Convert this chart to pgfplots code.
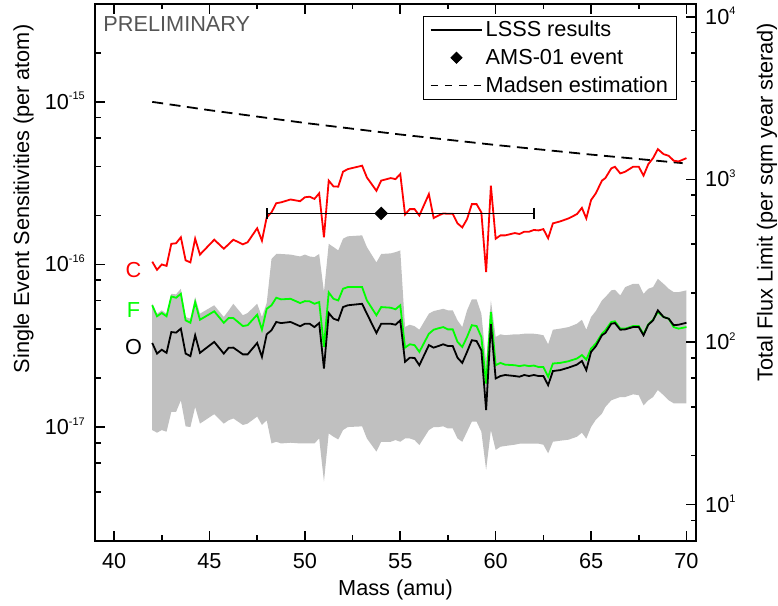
\documentclass[border=0pt]{standalone}
\usepackage{fontspec}
\setmainfont{Liberation Sans}
\usepackage{pgfplots}
\pgfplotsset{compat=1.18}
\usepackage{pgfplotstable}
\usepgfplotslibrary{fillbetween}

\definecolor{band}{RGB}{192,192,192}
\definecolor{lime}{RGB}{0,255,0}
\definecolor{prelim}{RGB}{85,85,85}

% 10 with a small raised exponent
\newcommand{\pw}[1]{10\smash{\raisebox{9.5bp}{\fontsize{11bp}{12bp}\selectfont #1}}}

% mass, C, F, O sensitivities and the lower/upper edge of the grey band
\pgfplotstableread{
m     C        F        O        lo       up
42.00 1.04e-16 5.61e-17 3.29e-17 9.58e-18 5.73e-17
42.25 9.27e-17 4.80e-17 2.83e-17 9.23e-18 4.98e-17
42.50 1.00e-16 5.03e-17 2.99e-17 9.58e-18 5.22e-17
42.75 9.80e-17 4.80e-17 2.86e-17 9.36e-18 4.98e-17
43.00 1.34e-16 6.36e-17 3.84e-17 1.24e-17 6.60e-17
43.25 1.35e-16 6.24e-17 3.81e-17 1.24e-17 6.55e-17
43.50 1.47e-16 6.60e-17 4.03e-17 1.46e-17 7.09e-17
43.75 1.06e-16 4.53e-17 2.83e-17 1.01e-17 4.75e-17
44.00 1.03e-16 4.38e-17 2.73e-17 1.00e-17 4.64e-17
44.25 1.44e-16 5.87e-17 3.67e-17 1.33e-17 6.30e-17
44.50 1.15e-16 4.57e-17 2.86e-17 1.05e-17 4.98e-17
45.25 1.42e-16 5.15e-17 3.34e-17 1.20e-17 5.61e-17
45.75 1.25e-16 4.38e-17 2.83e-17 1.05e-17 4.75e-17
46.00 1.33e-16 4.68e-17 3.07e-17 1.10e-17 5.20e-17
46.25 1.42e-16 4.68e-17 3.08e-17 1.13e-17 5.73e-17
46.75 1.33e-16 4.18e-17 2.80e-17 1.03e-17 4.87e-17
47.00 1.37e-16 4.23e-17 2.80e-17 1.05e-17 5.03e-17
47.50 1.67e-16 4.91e-17 3.29e-17 1.16e-17 5.73e-17
47.75 1.40e-16 3.97e-17 2.70e-17 1.03e-17 4.75e-17
48.00 1.95e-16 5.34e-17 3.72e-17 1.10e-17 5.79e-17
48.25 2.09e-16 5.61e-17 3.94e-17 7.93e-18 1.08e-16
48.50 2.38e-16 6.24e-17 4.43e-17 8.12e-18 1.16e-16
48.75 2.41e-16 6.10e-17 4.36e-17 7.93e-18 1.16e-16
49.25 2.51e-16 6.15e-17 4.43e-17 8.01e-18 1.15e-16
49.75 2.45e-16 5.79e-17 4.17e-17 7.93e-18 1.12e-16
50.00 2.59e-16 5.95e-17 4.32e-17 7.93e-18 1.15e-16
50.25 2.61e-16 5.93e-17 4.32e-17 7.93e-18 1.12e-16
50.50 2.53e-16 5.73e-17 4.12e-17 7.93e-18 1.11e-16
50.75 2.74e-16 5.87e-17 4.36e-17 8.51e-18 1.16e-16
51.00 1.47e-16 3.11e-17 2.29e-17 4.62e-18 6.76e-17
51.25 3.28e-16 6.73e-17 5.03e-17 9.14e-18 1.34e-16
51.50 3.02e-16 6.15e-17 4.64e-17 8.72e-18 1.28e-16
51.75 3.01e-16 6.01e-17 4.53e-17 8.39e-18 1.22e-16
52.00 3.72e-16 7.09e-17 5.47e-17 9.58e-18 1.44e-16
52.25 3.86e-16 7.26e-17 5.61e-17 1.00e-17 1.49e-16
53.00 4.05e-16 7.26e-17 5.73e-17 1.01e-17 1.51e-16
53.25 3.43e-16 6.01e-17 4.98e-17 8.51e-18 1.28e-16
53.75 2.84e-16 4.87e-17 3.79e-17 7.06e-18 1.03e-16
54.00 3.28e-16 5.47e-17 4.32e-17 8.12e-18 1.16e-16
54.50 3.40e-16 5.42e-17 4.32e-17 8.12e-18 1.17e-16
54.75 3.35e-16 5.30e-17 4.26e-17 8.32e-18 1.19e-16
55.00 3.60e-16 5.61e-17 4.53e-17 8.12e-18 1.22e-16
55.25 2.03e-16 3.08e-17 2.52e-17 8.51e-18 4.12e-17
55.50 2.19e-16 3.23e-17 2.67e-17 8.51e-18 4.26e-17
55.75 2.19e-16 3.19e-17 2.66e-17 8.32e-18 4.17e-17
56.00 2.00e-16 2.90e-17 2.40e-17 7.75e-18 3.97e-17
56.50 2.71e-16 3.75e-17 3.19e-17 9.58e-18 4.98e-17
56.75 1.93e-16 3.97e-17 3.08e-17 1.00e-17 5.17e-17
57.00 2.00e-16 4.05e-17 3.15e-17 1.00e-17 5.25e-17
57.25 2.06e-16 4.12e-17 3.23e-17 1.01e-17 5.34e-17
57.50 2.05e-16 3.99e-17 3.15e-17 9.80e-18 5.22e-17
57.75 2.05e-16 3.99e-17 3.15e-17 9.80e-18 5.22e-17
58.00 1.79e-16 3.34e-17 2.67e-17 8.51e-18 4.53e-17
58.25 1.69e-16 3.11e-17 2.48e-17 8.12e-18 4.12e-17
58.50 1.90e-16 3.58e-17 2.90e-17 9.36e-18 5.22e-17
58.75 2.35e-16 4.23e-17 3.42e-17 1.08e-17 6.10e-17
59.00 2.35e-16 4.18e-17 3.38e-17 1.08e-17 6.10e-17
59.25 2.09e-16 3.58e-17 2.97e-17 9.36e-18 4.98e-17
59.50 8.97e-17 1.85e-17 1.27e-17 5.45e-18 2.52e-17
59.75 3.05e-16 5.10e-17 4.29e-17 9.58e-18 6.01e-17
60.00 1.44e-16 2.40e-17 1.99e-17 7.23e-18 3.58e-17
60.25 1.51e-16 2.48e-17 2.06e-17 7.57e-18 3.72e-17
60.50 1.51e-16 2.42e-17 2.09e-17 7.65e-18 3.67e-17
61.00 1.56e-16 2.40e-17 2.06e-17 7.79e-18 3.72e-17
61.25 1.54e-16 2.37e-17 2.04e-17 7.90e-18 3.72e-17
61.50 1.59e-16 2.40e-17 2.09e-17 7.90e-18 3.75e-17
61.75 1.59e-16 2.37e-17 2.06e-17 7.90e-18 3.75e-17
62.00 1.63e-16 2.39e-17 2.09e-17 7.90e-18 3.75e-17
62.25 1.62e-16 2.34e-17 2.06e-17 7.90e-18 3.72e-17
62.50 1.65e-16 2.34e-17 2.06e-17 7.79e-18 3.67e-17
62.75 1.45e-16 2.04e-17 1.81e-17 6.89e-18 3.23e-17
63.00 1.79e-16 2.46e-17 2.21e-17 8.12e-18 3.97e-17
63.38 1.84e-16 2.48e-17 2.24e-17 8.24e-18 4.03e-17
63.82 1.92e-16 2.54e-17 2.32e-17 8.36e-18 4.12e-17
64.26 2.04e-16 2.64e-17 2.42e-17 8.72e-18 4.32e-17
64.52 2.23e-16 2.77e-17 2.55e-17 9.23e-18 4.57e-17
64.75 1.92e-16 2.60e-17 2.24e-17 8.48e-18 3.97e-17
65.00 2.49e-16 3.04e-17 2.90e-17 1.00e-17 4.75e-17
65.25 2.74e-16 3.26e-17 3.14e-17 1.11e-17 5.17e-17
65.57 3.28e-16 3.75e-17 3.67e-17 1.21e-17 6.01e-17
65.75 3.40e-16 3.94e-17 3.79e-17 1.33e-17 6.30e-17
66.06 3.90e-16 4.43e-17 4.32e-17 1.46e-17 6.93e-17
66.25 3.99e-16 4.47e-17 4.36e-17 1.49e-17 6.99e-17
66.53 3.63e-16 4.03e-17 3.97e-17 1.53e-17 6.45e-17
66.79 3.72e-16 4.03e-17 3.99e-17 1.53e-17 7.26e-17
67.20 3.99e-16 4.18e-17 4.12e-17 1.59e-17 7.60e-17
67.50 3.99e-16 4.18e-17 4.12e-17 1.57e-17 7.60e-17
67.75 3.52e-16 3.72e-17 3.67e-17 1.36e-17 6.60e-17
68.00 4.14e-16 4.29e-17 4.26e-17 1.46e-17 7.09e-17
68.25 4.51e-16 4.57e-17 4.53e-17 1.53e-17 7.26e-17
68.50 5.12e-16 5.10e-17 5.22e-17 1.69e-17 8.16e-17
68.80 4.77e-16 4.75e-17 4.75e-17 1.57e-17 7.60e-17
69.07 4.66e-16 4.64e-17 4.64e-17 1.46e-17 7.09e-17
69.33 4.35e-16 4.12e-17 4.23e-17 1.40e-17 6.76e-17
69.59 4.30e-16 4.03e-17 4.26e-17 1.40e-17 6.76e-17
70.00 4.51e-16 4.12e-17 4.38e-17 1.40e-17 6.93e-17
}\lsss

\pgfplotsset{
  common/.style={
    width=601bp, height=536.7bp, scale only axis,
    at={(0,0)}, anchor=south west,
    xmin=39, xmax=70.5,
    font=\fontsize{21.7bp}{26bp}\selectfont,
    tick align=inside,
    major tick length=10bp, minor tick length=5.5bp,
    tick style={black, line width=1.6bp},
    axis line style={line width=2bp},
  },
}

\begin{document}
\begin{tikzpicture}
\begin{axis}[common,
    ymode=log, ymin=2e-18, ymax=4e-15,
    xtick={40,45,...,70}, xticklabels={40,45,50,55,60,65,70},
    minor xtick={42.5,47.5,...,67.5},
    xtick pos=both, ytick pos=left,
    ytick={1e-17,1e-16,1e-15}, yticklabels={\pw{-17},\pw{-16},\pw{-15}},
    minor ytick={2e-18,4e-18,6e-18,8e-18,2e-17,4e-17,6e-17,8e-17,2e-16,4e-16,6e-16,8e-16,2e-15,4e-15},
    xticklabel style={inner sep=0bp, yshift=-12.5bp},
    yticklabel style={inner sep=0bp, xshift=-10bp},
    xlabel={Mass (amu)},
    ylabel={Single Event Sensitivities (per atom)},
    xlabel style={at={(axis description cs:0.5,-0.103)}, anchor=base, inner sep=0bp},
    ylabel style={at={(axis description cs:-0.1097,0.6367)}, anchor=base, inner sep=0bp},
    legend style={at={(axis description cs:0.968,0.978)}, anchor=north east,
      draw=black, line width=0.8bp, inner xsep=6bp, inner ysep=2.5bp,
      row sep=6bp, nodes={inner sep=2.5bp}},
    legend cell align=left,
    legend image code/.code={\draw[mark repeat=2,mark phase=2,#1]
      plot coordinates {(0bp,0bp) (25.85bp,0bp) (51.7bp,0bp)};},
  ]
  \addlegendimage{black, line width=1.8bp}
  \addlegendentry{LSSS results}
  \addlegendimage{black, only marks, mark=square*, mark size=3.9bp, mark options={rotate=45}}
  \addlegendentry{AMS-01 event}
  \addlegendimage{black, line width=1.6bp, dash pattern=on 7.3bp off 7bp}
  \addlegendentry{Madsen estimation}

  % grey uncertainty band
  \addplot[name path=up, draw=none, forget plot] table[x=m, y=up]{\lsss};
  \addplot[name path=lo, draw=none, forget plot] table[x=m, y=lo]{\lsss};
  \addplot[band, forget plot] fill between[of=up and lo];

  % Madsen estimation
  \addplot[black, line width=1.8bp, dash pattern=on 11bp off 6.5bp, forget plot] coordinates {
    (42,1.00e-15) (45,8.89e-16) (50,7.42e-16) (55,6.30e-16) (60,5.43e-16) (65,4.74e-16) (69.8,4.20e-16)};

  \addplot[red, line width=1.8bp, forget plot] table[x=m, y=C]{\lsss};
  \addplot[lime, line width=1.8bp, forget plot] table[x=m, y=F]{\lsss};
  \addplot[black, line width=1.8bp, forget plot] table[x=m, y=O]{\lsss};

  % AMS-01 event with its mass range
  \addplot[black, line width=1.6bp, mark=square*, mark size=4bp, mark options={rotate=45}, forget plot,
    error bars/.cd, x dir=both, x explicit, error mark=|,
    error bar style={line width=1.6bp},
    error mark options={mark size=5.5bp, line width=1.6bp, rotate=0}]
    coordinates {(54,2.06e-16) += (8,0) -= (6,0)};

  \node[red] at (axis cs:41.02,9.29e-17) {C};
  \node[lime] at (axis cs:41.02,5.28e-17) {F};
  \node[black] at (axis cs:41.02,3.11e-17) {O};
  \node[anchor=base west, inner sep=0bp, text=prelim] at (axis description cs:0.0138,0.9484) {PRELIMINARY};
\end{axis}

\begin{axis}[common,
    ymode=log, ymin=6, ymax=12000,
    axis x line=none, axis y line*=right,
    ytick={10,100,1000,10000}, yticklabels={\pw{1},\pw{2},\pw{3},\pw{4}},
    minor ytick={6,8,20,40,60,80,200,400,600,800,2000,4000,6000,8000},
    yticklabel style={inner sep=0bp, xshift=9bp},
    ylabel={Total Flux Limit (per sqm year sterad)},
    ylabel style={at={(axis description cs:1.1273,0.631)}, anchor=base, inner sep=0bp},
  ]
  \addplot[draw=none] coordinates {(40,100)};
\end{axis}
\pgfresetboundingbox
\useasboundingbox (-95bp,-65.3bp) rectangle (683bp,540.7bp);
\end{tikzpicture}
\end{document}
